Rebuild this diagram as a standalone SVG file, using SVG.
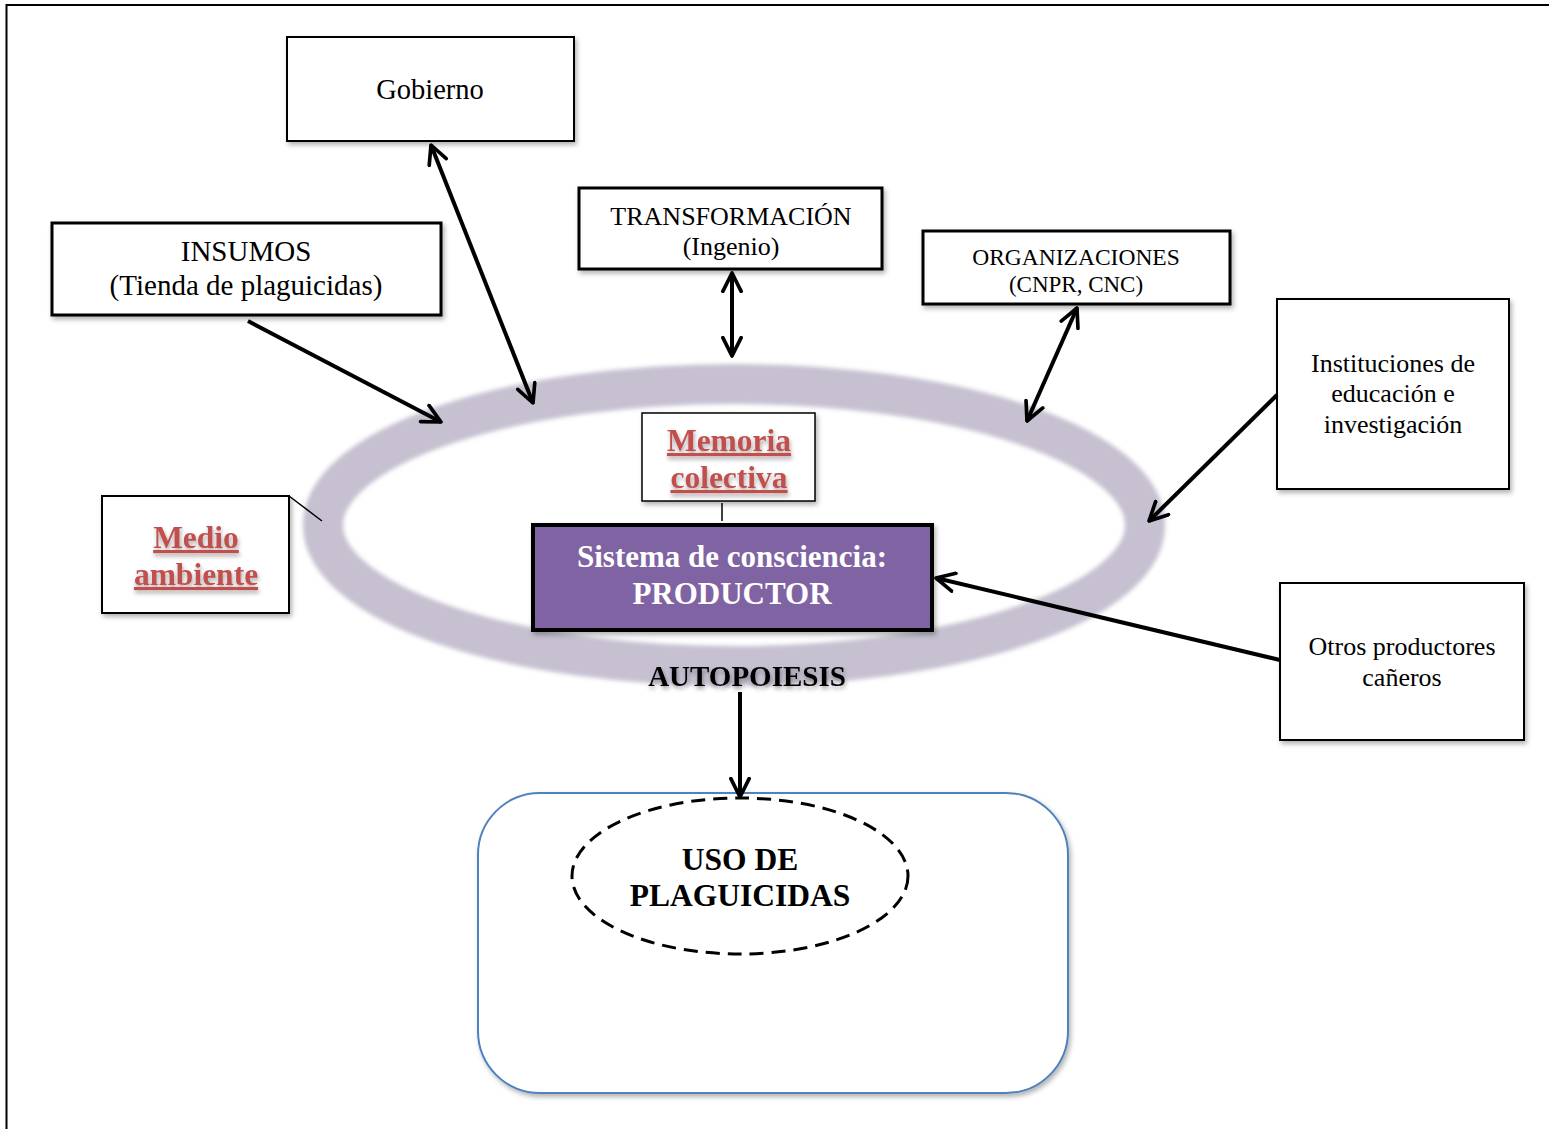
<svg xmlns="http://www.w3.org/2000/svg" width="1549" height="1129" viewBox="0 0 1549 1129">
<style>
.box{fill:#fff;stroke:#000;}
.t{font-family:"Liberation Serif","Times New Roman",serif;fill:#000;text-anchor:middle;}
.red{font-family:"Liberation Serif","Times New Roman",serif;fill:#c0504d;font-weight:bold;text-anchor:middle;text-decoration:underline;font-size:31.5px;}
.conn{stroke:#000;stroke-width:4;fill:none;}
</style>
<defs>
<marker id="ah" viewBox="0 0 12 12" refX="11" refY="6" markerWidth="5.5" markerHeight="5.5" orient="auto-start-reverse" markerUnits="strokeWidth">
<path d="M1,1 L11,6 L1,11" fill="none" stroke="#000" stroke-width="2" stroke-linecap="round" stroke-linejoin="round"/>
</marker>
<filter id="sh" x="-10%" y="-10%" width="130%" height="130%">
<feDropShadow dx="2" dy="3" stdDeviation="2.5" flood-color="#000" flood-opacity="0.3"/>
</filter>
<filter id="tsh" x="-10%" y="-20%" width="130%" height="160%">
<feDropShadow dx="1" dy="3" stdDeviation="2" flood-color="#000" flood-opacity="0.35"/>
</filter>
<filter id="blur"><feGaussianBlur stdDeviation="2"/></filter>
</defs>

<path d="M6.5,1129 V5 H1549" fill="none" stroke="#000" stroke-width="2"/>

<g id="ring">
<ellipse cx="734" cy="525" rx="411" ry="141" fill="none" stroke="#c6c0d0" stroke-width="40" filter="url(#blur)"/>
</g>

<g id="gobierno">
<rect class="box" x="287" y="37" width="287" height="104" stroke-width="2" filter="url(#sh)"/>
<text class="t" x="430" y="99" font-size="28.5">Gobierno</text>
</g>

<g id="insumos">
<rect class="box" x="52" y="223" width="389" height="92" stroke-width="3" filter="url(#sh)"/>
<text class="t" x="246" y="261" font-size="29">INSUMOS</text>
<text class="t" x="246" y="295" font-size="29">(Tienda de plaguicidas)</text>
</g>

<g id="transformacion">
<rect class="box" x="579" y="188" width="303" height="81" stroke-width="3" filter="url(#sh)"/>
<text class="t" x="731" y="225" font-size="26">TRANSFORMACIÓN</text>
<text class="t" x="731" y="255" font-size="26">(Ingenio)</text>
</g>

<g id="organizaciones">
<rect class="box" x="923" y="231" width="307" height="73" stroke-width="3" filter="url(#sh)"/>
<text class="t" x="1076" y="265" font-size="23.5">ORGANIZACIONES</text>
<text class="t" x="1076" y="292" font-size="23">(CNPR, CNC)</text>
</g>

<g id="instituciones">
<rect class="box" x="1277" y="299" width="232" height="190" stroke-width="2" filter="url(#sh)"/>
<text class="t" x="1393" y="372" font-size="26">Instituciones de</text>
<text class="t" x="1393" y="402" font-size="26">educación e</text>
<text class="t" x="1393" y="433" font-size="26">investigación</text>
</g>

<g id="otros">
<rect class="box" x="1280" y="583" width="244" height="157" stroke-width="2" filter="url(#sh)"/>
<text class="t" x="1402" y="655" font-size="26">Otros productores</text>
<text class="t" x="1402" y="686" font-size="26">cañeros</text>
</g>

<g id="medio-ambiente">
<rect class="box" x="102" y="496" width="187" height="117" stroke-width="2" filter="url(#sh)"/>
<line x1="289" y1="496" x2="322" y2="521" stroke="#000" stroke-width="1.5"/>
<text class="red" x="196" y="548" filter="url(#tsh)">Medio</text>
<text class="red" x="196" y="585" filter="url(#tsh)">ambiente</text>
</g>

<g id="memoria">
<rect class="box" x="642" y="413" width="173" height="88" stroke-width="1.5" filter="url(#sh)"/>
<text class="red" x="729" y="451" filter="url(#tsh)">Memoria</text>
<text class="red" x="729" y="488" filter="url(#tsh)">colectiva</text>
</g>

<g id="sistema">
<rect x="533" y="525" width="399" height="105" fill="#8064a2" stroke="#000" stroke-width="4" filter="url(#sh)"/>
<text class="t" x="732" y="567" font-size="31" font-weight="bold" style="fill:#fff">Sistema de consciencia:</text>
<text class="t" x="732" y="604" font-size="31" font-weight="bold" style="fill:#fff">PRODUCTOR</text>
</g>

<g id="autopoiesis">
<text class="t" x="747" y="686" font-size="29" font-weight="bold" filter="url(#tsh)">AUTOPOIESIS</text>
</g>

<g id="uso">
<rect x="478" y="793" width="590" height="300" rx="62" ry="62" fill="#fff" stroke="#4f81bd" stroke-width="2" filter="url(#sh)"/>
<ellipse cx="740" cy="876" rx="168" ry="78" fill="none" stroke="#000" stroke-width="3" stroke-dasharray="14 8"/>
<text class="t" x="740" y="870" font-size="31.5" font-weight="bold">USO DE</text>
<text class="t" x="740" y="906" font-size="31.5" font-weight="bold">PLAGUICIDAS</text>
</g>

<g id="connectors">
<line x1="722" y1="503" x2="722" y2="521" stroke="#000" stroke-width="1.5"/>
<line class="conn" x1="248" y1="321" x2="441" y2="422" marker-end="url(#ah)"/>
<line class="conn" x1="431" y1="145" x2="533" y2="403" marker-start="url(#ah)" marker-end="url(#ah)"/>
<line class="conn" x1="732" y1="273" x2="732" y2="356" marker-start="url(#ah)" marker-end="url(#ah)"/>
<line class="conn" x1="1077" y1="308" x2="1027" y2="421" marker-start="url(#ah)" marker-end="url(#ah)"/>
<line class="conn" x1="1277" y1="395" x2="1149" y2="521" marker-end="url(#ah)"/>
<line class="conn" x1="1280" y1="660" x2="936" y2="578" marker-end="url(#ah)"/>
<line class="conn" x1="740" y1="692" x2="740" y2="797" marker-end="url(#ah)"/>
</g>
</svg>
